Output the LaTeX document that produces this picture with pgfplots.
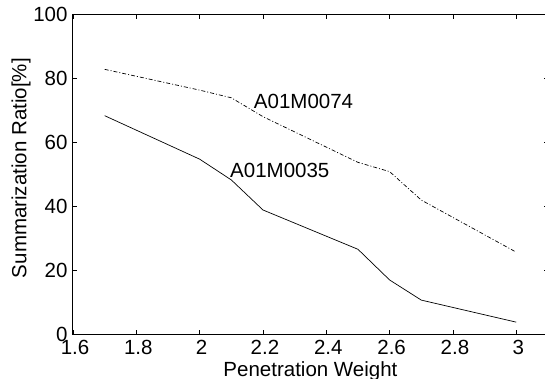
\documentclass[border=0pt]{standalone}
\usepackage{pgfplots}
\pgfplotsset{compat=1.18}
\usepackage{fontspec}
\setmainfont{Liberation Sans}
\newcommand{\lf}{\fontsize{20.5}{24}\selectfont}
\begin{document}
\begin{tikzpicture}
\begin{axis}[
  scale only axis,
  width=474.9pt, height=319.6pt,
  xmin=1.6, xmax=3.1, ymin=0, ymax=100,
  xtick={1.6,1.8,2,2.2,2.4,2.6,2.8,3},
  ytick={0,20,40,60,80,100},
  xticklabels={1.6,1.8,2,2.2,2.4,2.6,2.8,3},
  yticklabels={0,20,40,60,80,100},
  tick align=inside,
  major tick length=4pt,
  tick style={black, line width=0.6pt},
  axis line style={black, line width=1pt},
  tick label style={font=\lf},
  xticklabel style={yshift=-2pt, xshift=2pt},
  yticklabel style={xshift=-2pt},
  /pgf/number format/assume math mode=true,
  every axis x label/.style={at={(axis description cs:0.5,-0.1336)}, anchor=base, font=\lf},
  every axis y label/.style={at={(axis description cs:-0.1095,0.52)}, rotate=90, anchor=center, font=\lf},
  xlabel={Penetration Weight},
  ylabel={Summarization Ratio[\%]},
]
\addplot[black, line width=0.7pt] coordinates {
 (1.7,68.4) (2.0,54.8) (2.1,48.3) (2.2,38.9) (2.5,26.6) (2.6,17.0) (2.7,10.7) (3.0,3.8)
};
\addplot[black, line width=0.7pt, dash pattern=on 4pt off 2pt on 1pt off 2pt] coordinates {
 (1.7,82.9) (2.0,76.4) (2.1,74.0) (2.2,68.1) (2.5,53.8) (2.6,50.9) (2.7,42.0) (3.0,25.7)
};
\node[anchor=west, inner sep=0pt, font=\lf] at (axis cs:2.171,72.8) {A01M0074};
\node[anchor=west, inner sep=0pt, font=\lf] at (axis cs:2.096,51.2) {A01M0035};
\coordinate (sw) at (rel axis cs:0,0);
\coordinate (ne) at (rel axis cs:1,1);
\end{axis}
\pgfresetboundingbox
\path[use as bounding box] ([xshift=-73pt,yshift=-44.7pt]sw) rectangle ([xshift=-2.9pt,yshift=14.7pt]ne);
\end{tikzpicture}
\end{document}
